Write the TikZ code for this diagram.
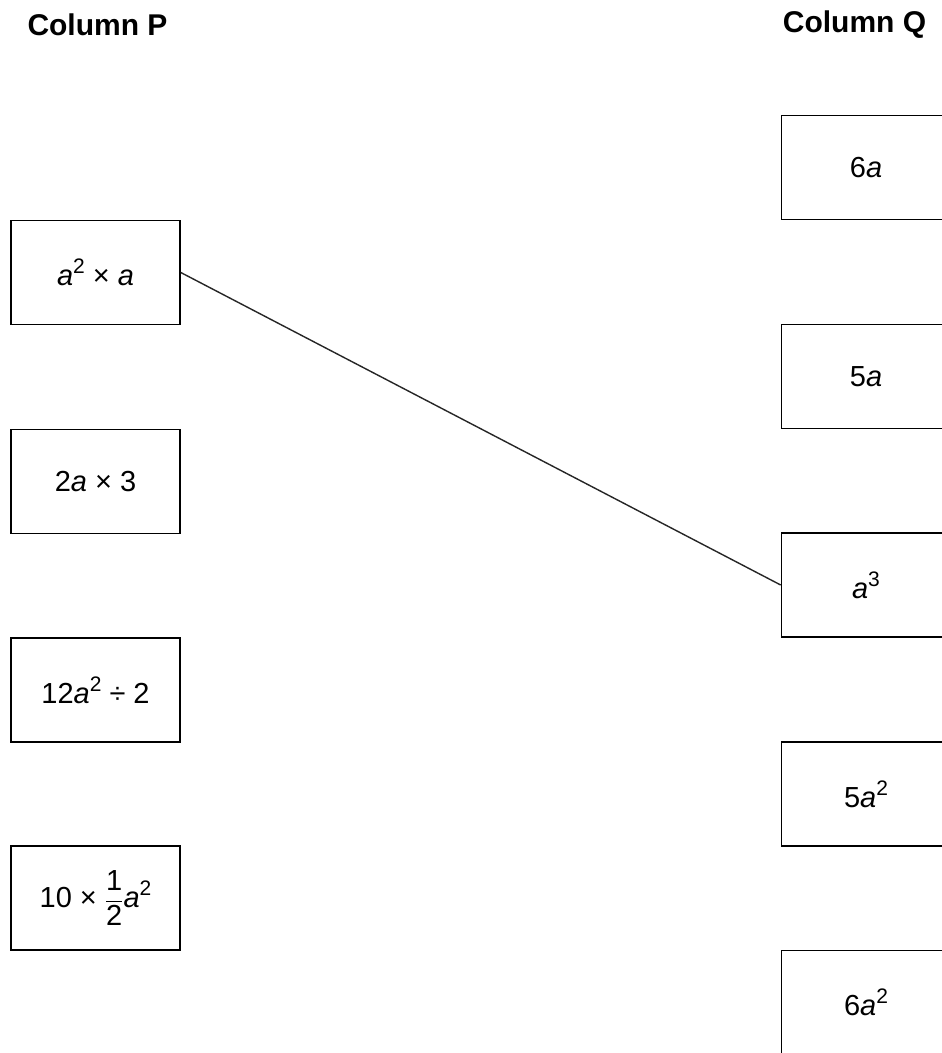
\documentclass[tikz,border=0pt]{standalone}
\usepackage{amsmath}
\usepackage{fontspec}
\setmainfont{Liberation Sans}
\newcommand{\va}{\textit{a}}
\newcommand{\sq}[1]{\raisebox{0.42em}{\fontsize{21}{21}\selectfont #1}}
\begin{document}
\begin{tikzpicture}[x=1pt,y=-1pt,
  box/.style={draw=black, line width=1.6pt, minimum width=169pt, minimum height=104pt, inner sep=0pt,
    font=\fontsize{29}{32}\selectfont},
  title/.style={font=\fontsize{30}{32}\selectfont\bfseries, inner sep=0pt},
  link/.style={draw=black!85, line width=1.4pt}]
\useasboundingbox (0,0) rectangle (942,1053);
\clip (0,0) rectangle (942,1053);
\fill[white] (0,0) rectangle (942,1053);
\node[title] (tp) at (97.5,25) {Column P};
\node[title] (tq) at (854.5,25) {Column Q};
\node[box] (p1) at (95.5,272.5) {\va\sq{2} × \va};
\node[box] (p2) at (95.5,481.5) {2\va{} × 3};
\node[box] (p3) at (95.5,690) {12\va\sq{2} ÷ 2};
\node[box] (p4) at (95.5,898) {10 × $\dfrac{\text{1}}{\text{2}}$\va\sq{2}};
\node[box] (q1) at (866,167.5) {6\va};
\node[box] (q2) at (866,376.5) {5\va};
\node[box] (q3) at (866,585) {\va\sq{3}};
\node[box] (q4) at (866,794) {5\va\sq{2}};
\node[box] (q5) at (866,1002.5) {6\va\sq{2}};
\draw[link] (p1.east) -- (q3.west);
\end{tikzpicture}
\end{document}
